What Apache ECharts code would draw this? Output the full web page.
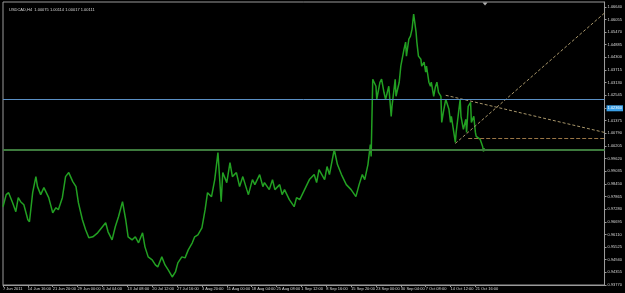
<!DOCTYPE html>
<html>
<head>
<meta charset="utf-8">
<script src="https://cdn.jsdelivr.net/npm/echarts@6/dist/echarts.min.js"></script>
<style>
  html, body { margin: 0; background: #000; }
  #chart { width: 625px; height: 293px; }
</style>
</head>
<body>
<div id="chart"></div>
<script>
// USDCAD H4, one label every 31 bars
const timeLabels = ['7 Jun 2011', '14 Jun 16:00', '21 Jun 20:00', '29 Jun 00:00', '6 Jul 04:00',
  '13 Jul 08:00', '20 Jul 12:00', '27 Jul 16:00', '3 Aug 20:00', '11 Aug 00:00', '18 Aug 04:00',
  '25 Aug 08:00', '1 Sep 12:00', '8 Sep 16:00', '15 Sep 20:00', '23 Sep 00:00', '30 Sep 04:00',
  '7 Oct 08:00', '14 Oct 12:00', '21 Oct 16:00'];
const barsPerLabel = 31;

const priceTicks = ['0.93770', '0.94355', '0.94940', '0.95525', '0.96110', '0.96695', '0.97280',
  '0.97865', '0.98450', '0.99035', '0.99620', '1.00205', '1.00790', '1.01375', '1.01960', '1.02545',
  '1.03130', '1.03715', '1.04300', '1.04885', '1.05470', '1.06055', '1.06640'];

// bar number and price
const bars = [0, 4, 7, 12, 16, 19, 22, 26, 31, 33, 37, 41, 43, 47, 51, 53, 57, 62, 66, 69,
  74, 78, 82, 87, 91, 94, 99, 103, 107, 112, 118, 124, 128, 131, 136, 140, 144, 149, 153, 156,
  161, 165, 169, 174, 177, 181, 186, 190, 193, 198, 202, 206, 211, 215, 218, 223, 227, 231, 236, 239,
  243, 248, 252, 255, 260, 264, 268, 272, 274, 279, 283, 286, 291, 295, 299, 304, 306,
  311, 314, 320, 324, 326, 332, 336, 339, 345, 348, 351, 357, 363, 366, 370, 376, 382, 388, 391, 394,
  401, 404, 407, 413, 417, 422, 428, 434, 440, 444, 448, 451, 455, 458, 459,
  461, 465, 466, 470, 472, 475, 477, 481, 484, 485, 489, 490, 494, 496, 500, 502, 503, 506, 508, 510,
  512, 515, 516, 518, 521, 522, 525, 527, 528, 531, 533, 534, 537, 539, 541, 543, 546, 547, 549, 552,
  556, 558, 559, 564, 565, 568, 570, 571, 574, 577, 578, 580, 583, 584, 587, 589, 590, 595, 598, 599, 600];
const prices = [0.97392, 0.97949, 0.98041, 0.97577, 0.97159, 0.97809, 0.97624, 0.97484, 0.96788, 0.96695,
  0.98041, 0.98784, 0.98320, 0.97949, 0.98274, 0.98320, 0.97809, 0.97113, 0.97345, 0.97252,
  0.97809, 0.98784, 0.98970, 0.98552, 0.98320, 0.97577, 0.96788, 0.96324, 0.95952, 0.95999,
  0.96184, 0.96463, 0.96649, 0.96231, 0.95859, 0.96463, 0.96927, 0.97624, 0.96788, 0.95999,
  0.95859, 0.95999, 0.95720, 0.96184, 0.95534, 0.95070, 0.94931, 0.94699, 0.94606, 0.95070,
  0.94699, 0.94466, 0.94141, 0.94374, 0.94791, 0.95070, 0.95024, 0.95395, 0.95720, 0.95999,
  0.96092, 0.96417, 0.97252, 0.98041, 0.97856, 0.98645, 0.99899, 0.97624, 0.98970, 0.98506,
  0.99434, 0.98784, 0.98970, 0.98320, 0.98784, 0.98181, 0.97949,
  0.98645, 0.98413, 0.98877, 0.98320, 0.98506, 0.98181, 0.98645, 0.98181, 0.98413, 0.97949,
  0.98181, 0.97717, 0.97392, 0.97809, 0.97717, 0.98181, 0.98645, 0.98877, 0.98506, 0.99109,
  0.98645, 0.99249, 0.98877, 1.00038, 0.99342, 0.98877, 0.98413, 0.98181, 0.97856, 0.98413,
  0.98877, 0.98645, 0.99342, 1.00270, 0.99713,
  1.03288, 1.02963, 1.02359, 1.03149, 1.03288, 1.02684, 1.02359, 1.02963, 1.01570, 1.02034,
  1.03288, 1.02499, 1.03149, 1.03891, 1.04681, 1.05006, 1.04356, 1.05145, 1.05284, 1.05609,
  1.06306, 1.05470, 1.05006, 1.04356, 1.04216, 1.03891, 1.04077, 1.03613, 1.03891, 1.03149,
  1.02963, 1.03149, 1.02499, 1.02916, 1.03149, 1.02684, 1.02499, 1.01291, 1.01756, 1.02359,
  1.01895, 1.01291, 1.01570, 1.00363, 1.00827, 1.01756, 1.02359, 1.01570, 1.00966, 1.01431,
  1.00827, 1.02034, 1.02220, 1.01291, 1.01570, 1.00827, 1.00641, 1.00502, 1.00177, 0.99945, 1.00111];

const ohlcText = 'USDCAD,H4  1.00075 1.00114 1.00017 1.00111';
const bidPrice = 1.00111;
const blueLevel = 1.02360;
const greenLevel = 1.00015;
// trend lines: [bar, price] pairs
const lineUp = [[564, 1.00317], [750, 1.06352]];
const lineDown = [[552, 1.02545], [750, 1.00827]];
const lineFlat = [[580, 1.00572], [750, 1.00572]];
const shiftMarkBar = 601;

const chart = echarts.init(document.getElementById('chart'));
const lblFont = { fontFamily: 'Liberation Sans', fontSize: 4, color: '#d8d8d8' };
const boxLabel = (text, bg, fg, dy) => ({
  show: true, position: 'end', distance: 2, offset: [0, dy],
  formatter: () => text,
  backgroundColor: bg, color: fg, padding: [1, 1],
  fontFamily: 'Liberation Sans', fontSize: 4
});

chart.setOption({
  backgroundColor: '#000',
  animation: false,
  title: {
    text: ohlcText,
    left: 4, top: 3,
    textStyle: Object.assign({ fontWeight: 'normal' }, lblFont)
  },
  grid: {
    left: 2, right: 18, top: 2, bottom: 8,
    show: true, borderColor: '#9a9a9a', borderWidth: 1
  },
  xAxis: {
    type: 'value',
    min: 0, max: 750,
    splitLine: { show: false },
    axisLine: { onZero: false, lineStyle: { color: '#9a9a9a' } },
    axisTick: {
      customValues: timeLabels.map((t, i) => i * barsPerLabel),
      length: 2, lineStyle: { color: '#9a9a9a' }
    },
    axisLabel: Object.assign({
      customValues: timeLabels.map((t, i) => i * barsPerLabel),
      align: 'left', margin: 2,
      formatter: v => timeLabels[Math.round(v / barsPerLabel)] || ''
    }, lblFont)
  },
  yAxis: {
    type: 'value',
    position: 'right',
    min: 0.9377, max: 1.0686,
    splitLine: { show: false },
    axisLine: { show: true, onZero: false, lineStyle: { color: '#9a9a9a' } },
    axisTick: {
      customValues: priceTicks.map(Number),
      length: 2, lineStyle: { color: '#9a9a9a' }
    },
    axisLabel: Object.assign({
      customValues: priceTicks.map(Number),
      margin: 3,
      formatter: v => v.toFixed(5)
    }, lblFont)
  },
  series: [
    {
      type: 'line',
      data: bars.map((b, i) => [b, prices[i]]),
      symbol: 'none',
      lineStyle: { color: '#22a022', width: 1.5 },
      markPoint: {
        silent: true,
        symbol: 'triangle',
        symbolRotate: 180,
        symbolSize: [5, 3],
        symbolOffset: [0, 2],
        itemStyle: { color: '#b0b0b0' },
        label: { show: false },
        data: [{ coord: [shiftMarkBar, 1.0686] }]
      },
      markLine: {
        silent: true,
        symbol: 'none',
        label: { show: false },
        data: [
          [{ coord: lineUp[0] }, { coord: lineUp[1] }],
          [{ coord: lineDown[0] }, { coord: lineDown[1] }],
          [{ coord: lineFlat[0], lineStyle: { color: '#9a7646', type: [4, 2] } }, { coord: lineFlat[1] }],
          [
            {
              coord: [0, blueLevel],
              lineStyle: { color: '#5a8fc4', type: 'solid', width: 1 },
              label: boxLabel(blueLevel.toFixed(5), '#3aa0e8', '#ffffff', 9)
            },
            { coord: [750, blueLevel] }
          ],
          [
            { coord: [0, greenLevel], lineStyle: { color: '#3d7a3d', type: 'solid', width: 2 } },
            { coord: [750, greenLevel] }
          ],
          [
            {
              coord: [0, bidPrice],
              lineStyle: { opacity: 0, width: 0 },
              label: boxLabel(bidPrice.toFixed(5), '#ffffff', '#000000', 2)
            },
            { coord: [750, bidPrice] }
          ]
        ],
        lineStyle: { color: '#a8966a', type: [3, 2], width: 1 }
      }
    }
  ]
});
</script>
</body>
</html>
